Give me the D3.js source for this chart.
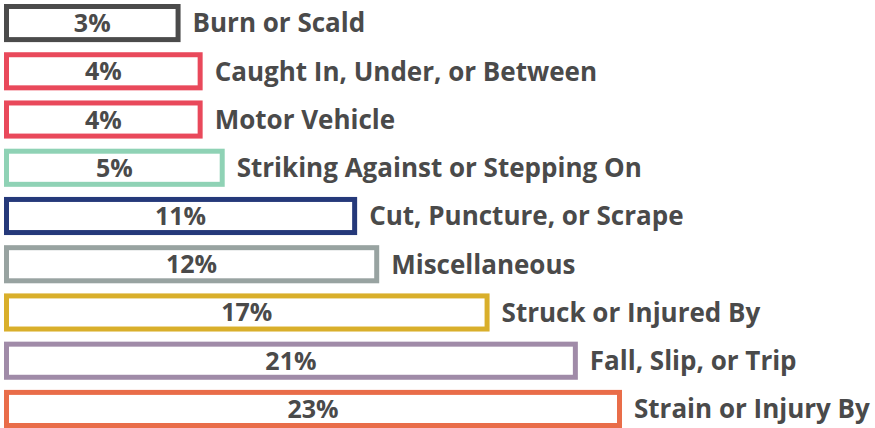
<!DOCTYPE html>
<html>
<head>
<meta charset="utf-8">
<script src="https://cdn.jsdelivr.net/npm/d3@7"></script>
<style>
  html, body { margin: 0; padding: 0; background: #fff; }
  svg { display: block; }
</style>
</head>
<body>
<svg id="chart"></svg>
<script>
const width = 875;
const height = 428;

// --- Data ---
const categories = [
  "Burn or Scald",
  "Caught In, Under, or Between",
  "Motor Vehicle",
  "Striking Against or Stepping On",
  "Cut, Puncture, or Scrape",
  "Miscellaneous",
  "Struck or Injured By",
  "Fall, Slip, or Trip",
  "Strain or Injury By"
];
const values = [3, 4, 4, 5, 11, 12, 17, 21, 23];
const colors = ["#4b4b4b", "#e9495b", "#e9495b", "#8fd2b5", "#25397a", "#98a3a1", "#d9af2b", "#a08ba8", "#e96d49"];

const data = categories.map((c, i) => ({ name: c, value: values[i], color: colors[i] }));

const svg = d3.select("#chart")
  .attr("width", width)
  .attr("height", height);

// bars start a bit to the left of zero so small shares stay readable
const x = d3.scaleLinear()
  .domain([-5, 23])
  .range([4, 622]);

const y = d3.scaleBand()
  .domain(categories)
  .range([4, 428])
  .paddingInner(0.21)
  .paddingOuter(0);

const sw = 5;
const textColor = "#4a4a4a";
const font = "'Open Sans', Lato, sans-serif";

const rows = svg.selectAll(".row")
  .data(data)
  .join("g")
  .attr("class", "row");

rows.append("rect")
  .attr("x", x(-5) + sw / 2)
  .attr("y", d => y(d.name) + sw / 2)
  .attr("width", d => x(d.value) - x(-5) - sw)
  .attr("height", y.bandwidth() - sw)
  .attr("fill", "#fff")
  .attr("stroke", d => d.color)
  .attr("stroke-width", sw);

rows.append("text")
  .attr("x", d => (x(-5) + x(d.value)) / 2)
  .attr("y", d => y(d.name) + y.bandwidth() / 2)
  .attr("dy", "0.36em")
  .attr("text-anchor", "middle")
  .attr("font-family", font)
  .attr("font-weight", "bold")
  .attr("font-size", 25)
  .attr("fill", textColor)
  .text(d => d.value + "%");

rows.append("text")
  .attr("x", d => x(d.value) + 12)
  .attr("y", d => y(d.name) + y.bandwidth() / 2)
  .attr("dy", "0.36em")
  .attr("font-family", font)
  .attr("font-weight", "bold")
  .attr("font-size", 26)
  .attr("fill", textColor)
  .text(d => d.name);
</script>
</body>
</html>
